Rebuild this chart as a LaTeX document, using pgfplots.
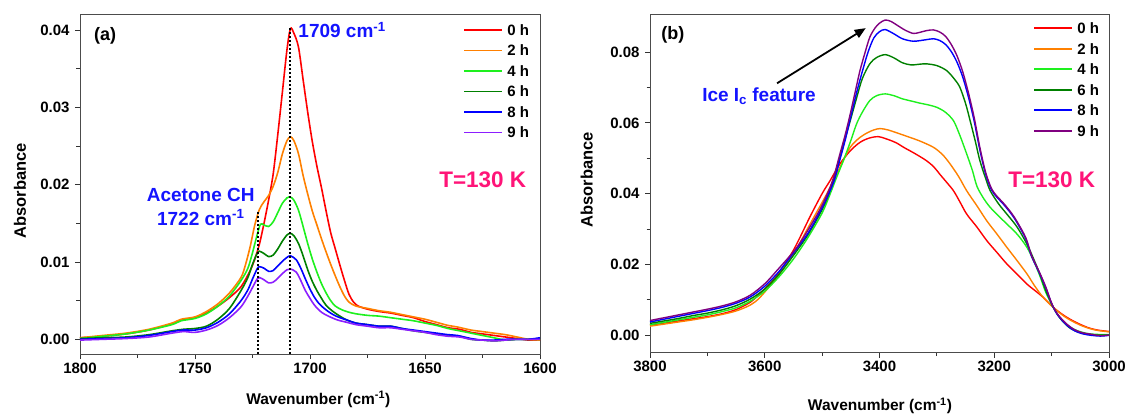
\documentclass[border=0pt]{standalone}
\usepackage{fontspec}
\setmainfont{Liberation Sans}
\usepackage{pgfplots}
\pgfplotsset{compat=1.18}
\usetikzlibrary{arrows.meta}
\definecolor{cA}{RGB}{255,0,0}
\definecolor{cB}{RGB}{255,128,0}
\definecolor{cC}{RGB}{30,240,30}
\definecolor{cD}{RGB}{0,128,0}
\definecolor{cE}{RGB}{0,0,255}
\definecolor{cFa}{RGB}{140,30,255}
\definecolor{cFb}{RGB}{128,0,128}
\definecolor{annblue}{RGB}{20,20,255}
\definecolor{pinkT}{RGB}{255,20,120}
\newcommand{\legrow}[6]{% color, x1, x2, xt, y, label
  \draw[#1, line width=1.9pt] (axis description cs:#2,#5) -- (axis description cs:#3,#5);
  \node[anchor=west, inner sep=0pt, text height=10.7pt, text depth=0pt, font=\fontsize{15}{15}\selectfont\bfseries] at (axis description cs:#4,#5) {#6};}
\pgfplotsset{
  myaxis/.style={
    scale only axis, clip=false,
    axis line style={draw=black!70, line width=0.8pt},
    tick style={black!80, line width=0.8pt},
    tick align=outside,
    major tick length=5pt, minor tick length=3.5pt,
    xtick pos=bottom, ytick pos=left,
    x dir=reverse,
    minor x tick num=1, minor y tick num=1,
    scaled y ticks=false, scaled x ticks=false,
    /pgf/number format/assume math mode=true,
    ticklabel style={font=\fontsize{15}{15}\selectfont\bfseries},
    yticklabel style={xshift=-2pt, /pgf/number format/fixed, /pgf/number format/fixed zerofill, /pgf/number format/precision=2},
    xticklabel style={/pgf/number format/set thousands separator={}},
    xlabel style={font=\fontsize{15.5}{15.5}\selectfont\bfseries, anchor=base, inner sep=0pt},
    ylabel style={font=\fontsize{16.5}{16.5}\selectfont\bfseries, anchor=center, inner sep=0pt},
  }
}
\begin{document}
\begin{tikzpicture}
\path (0,0) rectangle (1132pt,418pt);
% ---------------- panel (a)
\begin{axis}[myaxis,
  at={(80pt,64pt)}, anchor=south west,
  width=460pt, height=339.3pt,
  xmin=1600, xmax=1800, ymin=-0.0019, ymax=0.042,
  xtick={1600,1650,1700,1750,1800},
  ytick={0,0.01,0.02,0.03,0.04},
  xlabel={Wavenumber (cm\textsuperscript{-1})},
  ylabel={Absorbance},
  xlabel style={at={(axis description cs:0.518,-0.1474)}},
  ylabel style={at={(axis description cs:-0.1304,0.481)}},
  every axis plot/.append style={line width=1.6pt, smooth},
]
\addplot[cA] coordinates {(1800,0.0002)(1790,0.0004)(1780,0.0007)(1770,0.0012)(1760,0.0020)(1756,0.0025)(1750,0.0028)(1745,0.0034)(1740,0.0043)(1735,0.0054)(1730,0.0068)(1726,0.0089)(1724,0.0104)(1722,0.0123)(1720,0.0150)(1718,0.0180)(1716,0.0214)(1714,0.0265)(1712,0.0320)(1710,0.0375)(1708.5,0.0402)(1707,0.0396)(1705,0.0378)(1703,0.0336)(1701,0.0294)(1699,0.0256)(1697,0.0224)(1695,0.0196)(1693,0.0166)(1691,0.0138)(1689,0.0117)(1687,0.0096)(1685,0.0076)(1683,0.0058)(1681,0.0048)(1679,0.0043)(1675,0.0039)(1670,0.0036)(1665,0.0034)(1660,0.0031)(1655,0.0028)(1650,0.0023)(1645,0.0019)(1640,0.0015)(1635,0.0013)(1630,0.0009)(1625,0.0007)(1620,0.0005)(1615,0.0003)(1610,0.0001)(1605,-0.0001)(1600,-0.0001)};
\addplot[cB] coordinates {(1800,0.0002)(1790,0.0005)(1780,0.0008)(1770,0.0013)(1760,0.0021)(1756,0.0026)(1750,0.0029)(1745,0.0036)(1740,0.0046)(1735,0.0060)(1730,0.0080)(1728,0.0097)(1726,0.0120)(1724,0.0148)(1722,0.0168)(1720,0.0178)(1718,0.0186)(1716,0.0198)(1714,0.0216)(1712,0.0240)(1710,0.0257)(1708.5,0.0262)(1707,0.0257)(1705,0.0240)(1703,0.0212)(1701,0.0188)(1699,0.0166)(1697,0.0148)(1695,0.0130)(1693,0.0113)(1691,0.0097)(1689,0.0082)(1687,0.0068)(1685,0.0056)(1683,0.0048)(1680,0.0043)(1675,0.0040)(1670,0.0037)(1665,0.0035)(1660,0.0032)(1655,0.0029)(1650,0.0026)(1645,0.0022)(1640,0.0018)(1636,0.0016)(1630,0.0012)(1625,0.0010)(1620,0.0008)(1615,0.0006)(1610,0.0003)(1605,0.0000)(1600,-0.0001)};
\addplot[cC] coordinates {(1800,0.0001)(1790,0.0004)(1780,0.0007)(1770,0.0012)(1760,0.0019)(1756,0.0024)(1750,0.0027)(1745,0.0033)(1740,0.0043)(1735,0.0056)(1730,0.0076)(1727,0.0092)(1725,0.0112)(1723,0.0135)(1721.5,0.0149)(1720,0.0148)(1718,0.0146)(1716,0.0152)(1714,0.0164)(1712,0.0176)(1710,0.0183)(1708.5,0.0184)(1707,0.0180)(1705,0.0167)(1703,0.0146)(1701,0.0124)(1699,0.0104)(1697,0.0087)(1695,0.0072)(1693,0.0060)(1691,0.0050)(1689,0.0043)(1686,0.0038)(1683,0.0035)(1680,0.0033)(1675,0.0031)(1670,0.0030)(1665,0.0028)(1660,0.0026)(1655,0.0024)(1650,0.0021)(1645,0.0018)(1640,0.0014)(1635,0.0011)(1630,0.0008)(1625,0.0005)(1620,0.0002)(1615,-0.0001)(1610,0.0000)(1605,0.0000)(1600,0.0000)};
\addplot[cD] coordinates {(1800,0.0001)(1790,0.0002)(1780,0.0003)(1770,0.0006)(1760,0.0011)(1755,0.0013)(1750,0.0014)(1745,0.0017)(1740,0.0026)(1735,0.0040)(1730,0.0063)(1727,0.0080)(1725,0.0097)(1723,0.0111)(1722,0.0114)(1720,0.0111)(1718,0.0107)(1716,0.0109)(1714,0.0117)(1712,0.0127)(1710,0.0135)(1708.5,0.0137)(1707,0.0134)(1705,0.0124)(1703,0.0108)(1701,0.0090)(1699,0.0075)(1697,0.0063)(1695,0.0053)(1693,0.0044)(1690,0.0036)(1687,0.0030)(1684,0.0025)(1680,0.0021)(1675,0.0019)(1670,0.0017)(1665,0.0017)(1660,0.0014)(1655,0.0011)(1650,0.0009)(1645,0.0007)(1640,0.0005)(1635,0.0004)(1630,0.0000)(1625,-0.0001)(1620,-0.0002)(1615,-0.0001)(1610,0.0000)(1605,0.0000)(1600,0.0001)};
\addplot[cE] coordinates {(1800,0.0000)(1790,0.0001)(1780,0.0002)(1770,0.0005)(1760,0.0010)(1755,0.0012)(1750,0.0012)(1745,0.0015)(1740,0.0022)(1735,0.0033)(1730,0.0050)(1727,0.0064)(1725,0.0078)(1723,0.0091)(1722,0.0094)(1720,0.0092)(1718,0.0088)(1716,0.0089)(1714,0.0095)(1712,0.0101)(1710,0.0106)(1708.5,0.0108)(1706,0.0103)(1704,0.0092)(1702,0.0078)(1700,0.0065)(1698,0.0054)(1696,0.0046)(1693,0.0038)(1690,0.0032)(1687,0.0028)(1684,0.0025)(1680,0.0021)(1675,0.0019)(1670,0.0017)(1665,0.0017)(1660,0.0014)(1655,0.0012)(1650,0.0010)(1645,0.0008)(1640,0.0006)(1636,0.0005)(1630,0.0001)(1625,-0.0001)(1620,-0.0001)(1615,0.0000)(1610,0.0000)(1605,0.0000)(1600,0.0002)};
\addplot[cFa] coordinates {(1800,-0.0001)(1790,0.0000)(1780,0.0001)(1770,0.0003)(1760,0.0008)(1755,0.0010)(1750,0.0009)(1745,0.0012)(1740,0.0018)(1735,0.0028)(1730,0.0042)(1727,0.0056)(1725,0.0067)(1723,0.0078)(1722,0.0080)(1720,0.0077)(1718,0.0073)(1716,0.0074)(1714,0.0079)(1712,0.0085)(1710,0.0090)(1708.5,0.0091)(1706,0.0087)(1704,0.0076)(1702,0.0063)(1700,0.0053)(1698,0.0044)(1695,0.0035)(1692,0.0030)(1688,0.0025)(1684,0.0022)(1680,0.0019)(1675,0.0017)(1670,0.0015)(1665,0.0015)(1660,0.0013)(1655,0.0011)(1650,0.0009)(1645,0.0006)(1640,0.0004)(1635,0.0003)(1630,0.0000)(1625,-0.0001)(1620,-0.0002)(1615,-0.0001)(1610,0.0000)(1605,0.0000)(1600,0.0000)};
\addplot[black, line width=2pt, dash pattern=on 2pt off 2pt, sharp plot] coordinates {(1722.4,-0.0019)(1722.4,0.0166)};
\addplot[black, line width=2pt, dash pattern=on 2pt off 2pt, sharp plot] coordinates {(1708.5,-0.0019)(1708.5,0.0403)};
\node[anchor=base west, inner sep=0pt, font=\fontsize{18}{18}\selectfont\bfseries] at (axis cs:1793.9,0.0387) {(a)};
\node[anchor=base west, inner sep=0pt, text=annblue, font=\fontsize{19}{19}\selectfont\bfseries] at (axis cs:1705.1,0.0390) {1709 cm\textsuperscript{-1}};
\node[anchor=base, inner sep=0pt, text=annblue, font=\fontsize{19}{19}\selectfont\bfseries] at (axis cs:1747.5,0.01788) {Acetone CH};
\node[anchor=base, inner sep=0pt, text=annblue, font=\fontsize{19}{19}\selectfont\bfseries] at (axis cs:1747.5,0.01478) {1722 cm\textsuperscript{-1}};
\node[anchor=base east, inner sep=0pt, text=pinkT, font=\fontsize{22.5}{22.5}\selectfont\bfseries] at (axis cs:1605.9,0.0196) {T=130 K};
\legrow{cA}{0.8354}{0.9167}{0.9289}{0.9549}{0 h}
\legrow{cB}{0.8354}{0.9167}{0.9289}{0.8945}{2 h}
\legrow{cC}{0.8354}{0.9167}{0.9289}{0.8341}{4 h}
\legrow{cD}{0.8354}{0.9167}{0.9289}{0.7737}{6 h}
\legrow{cE}{0.8354}{0.9167}{0.9289}{0.7132}{8 h}
\legrow{cFa}{0.8354}{0.9167}{0.9289}{0.6528}{9 h}
\end{axis}
% ---------------- panel (b)
\begin{axis}[myaxis,
  at={(650pt,65.3pt)}, anchor=south west,
  width=459pt, height=338.7pt,
  xmin=3000, xmax=3800, ymin=-0.005, ymax=0.0908,
  xtick={3000,3200,3400,3600,3800},
  ytick={0,0.02,0.04,0.06,0.08},
  xlabel={Wavenumber (cm\textsuperscript{-1})},
  ylabel={Absorbance},
  xlabel style={at={(axis description cs:0.501,-0.1721)}},
  ylabel style={at={(axis description cs:-0.138,0.51)}},
  every axis plot/.append style={line width=1.4pt, smooth},
]
\addplot[cA] coordinates {(3800,0.0028)(3775,0.0034)(3750,0.0040)(3725,0.0046)(3700,0.0052)(3675,0.0060)(3650,0.0072)(3625,0.0093)(3608,0.0118)(3579,0.0168)(3550,0.0240)(3521,0.0335)(3500,0.0400)(3486,0.0437)(3469,0.0484)(3451,0.0521)(3434,0.0545)(3418,0.0557)(3402,0.0561)(3385,0.0553)(3370,0.0543)(3358,0.0531)(3338,0.0513)(3318,0.0493)(3305,0.0475)(3295,0.0455)(3283,0.0432)(3271,0.0408)(3260,0.0377)(3248,0.0342)(3230,0.0305)(3213,0.0267)(3195,0.0233)(3178,0.0201)(3160,0.0172)(3143,0.0144)(3130,0.0127)(3115,0.0107)(3097,0.0078)(3080,0.0057)(3065,0.0042)(3050,0.0030)(3035,0.0020)(3020,0.0014)(3000,0.0010)};
\addplot[cB] coordinates {(3800,0.0025)(3775,0.0031)(3750,0.0037)(3725,0.0043)(3700,0.0050)(3675,0.0058)(3650,0.0068)(3625,0.0085)(3608,0.0107)(3579,0.0163)(3550,0.0229)(3521,0.0314)(3492,0.0399)(3469,0.0474)(3451,0.0531)(3434,0.0559)(3420,0.0573)(3410,0.0580)(3399,0.0584)(3385,0.0580)(3370,0.0572)(3347,0.0559)(3330,0.0549)(3306,0.0531)(3290,0.0510)(3277,0.0484)(3262,0.0448)(3248,0.0408)(3230,0.0365)(3213,0.0323)(3195,0.0285)(3178,0.0248)(3160,0.0210)(3143,0.0173)(3130,0.0140)(3115,0.0107)(3097,0.0078)(3080,0.0055)(3065,0.0040)(3050,0.0028)(3035,0.0019)(3020,0.0013)(3000,0.0009)};
\addplot[cC] coordinates {(3800,0.0029)(3775,0.0036)(3750,0.0043)(3725,0.0050)(3700,0.0057)(3675,0.0066)(3650,0.0077)(3625,0.0096)(3600,0.0124)(3575,0.0165)(3550,0.0215)(3525,0.0275)(3500,0.0345)(3486,0.0399)(3475,0.0445)(3463,0.0493)(3450,0.0550)(3440,0.0597)(3430,0.0630)(3417,0.0663)(3405,0.0677)(3390,0.0682)(3375,0.0677)(3360,0.0668)(3345,0.0662)(3330,0.0656)(3315,0.0651)(3300,0.0644)(3285,0.0630)(3271,0.0606)(3260,0.0565)(3248,0.0512)(3238,0.0465)(3230,0.0420)(3218,0.0385)(3207,0.0361)(3192,0.0336)(3178,0.0314)(3160,0.0285)(3143,0.0248)(3130,0.0205)(3120,0.0165)(3110,0.0120)(3097,0.0078)(3085,0.0048)(3070,0.0025)(3055,0.0012)(3040,0.0005)(3025,0.0002)(3000,0.0001)};
\addplot[cD] coordinates {(3800,0.0033)(3775,0.0040)(3750,0.0047)(3725,0.0055)(3700,0.0062)(3675,0.0071)(3650,0.0083)(3625,0.0102)(3600,0.0130)(3575,0.0172)(3550,0.0225)(3525,0.0283)(3500,0.0355)(3486,0.0410)(3469,0.0503)(3451,0.0606)(3440,0.0670)(3430,0.0725)(3417,0.0767)(3405,0.0785)(3390,0.0793)(3375,0.0784)(3360,0.0770)(3345,0.0764)(3330,0.0766)(3318,0.0767)(3300,0.0762)(3283,0.0748)(3270,0.0725)(3260,0.0701)(3250,0.0655)(3242,0.0606)(3233,0.0548)(3225,0.0493)(3215,0.0443)(3207,0.0408)(3192,0.0370)(3178,0.0342)(3160,0.0305)(3143,0.0257)(3130,0.0210)(3120,0.0170)(3110,0.0125)(3097,0.0078)(3085,0.0047)(3070,0.0022)(3055,0.0009)(3040,0.0003)(3025,0.0000)(3000,0.0000)};
\addplot[cE] coordinates {(3800,0.0037)(3775,0.0045)(3750,0.0053)(3725,0.0061)(3700,0.0069)(3675,0.0078)(3650,0.0090)(3625,0.0108)(3600,0.0138)(3575,0.0180)(3550,0.0232)(3525,0.0287)(3500,0.0360)(3480,0.0432)(3470,0.0490)(3460,0.0550)(3450,0.0618)(3440,0.0685)(3430,0.0745)(3420,0.0800)(3410,0.0840)(3400,0.0858)(3390,0.0864)(3375,0.0852)(3360,0.0838)(3341,0.0831)(3320,0.0835)(3306,0.0838)(3295,0.0833)(3285,0.0822)(3275,0.0802)(3265,0.0772)(3255,0.0730)(3245,0.0673)(3235,0.0605)(3225,0.0523)(3215,0.0455)(3205,0.0411)(3195,0.0389)(3185,0.0372)(3170,0.0342)(3160,0.0317)(3145,0.0272)(3135,0.0223)(3120,0.0171)(3110,0.0133)(3100,0.0089)(3090,0.0058)(3075,0.0030)(3060,0.0012)(3045,0.0003)(3030,-0.0001)(3015,-0.0003)(3000,-0.0001)};
\addplot[cFb] coordinates {(3800,0.0041)(3775,0.0049)(3750,0.0057)(3725,0.0065)(3700,0.0073)(3675,0.0082)(3650,0.0094)(3625,0.0113)(3600,0.0145)(3579,0.0182)(3544,0.0248)(3515,0.0323)(3500,0.0367)(3486,0.0418)(3480,0.0445)(3469,0.0512)(3460,0.0565)(3451,0.0625)(3440,0.0705)(3434,0.0748)(3425,0.0800)(3417,0.0842)(3408,0.0868)(3400,0.0882)(3390,0.0891)(3380,0.0887)(3370,0.0877)(3355,0.0862)(3341,0.0853)(3330,0.0856)(3318,0.0861)(3306,0.0863)(3295,0.0857)(3285,0.0845)(3275,0.0822)(3265,0.0790)(3255,0.0745)(3245,0.0685)(3235,0.0615)(3225,0.0530)(3215,0.0460)(3205,0.0415)(3195,0.0392)(3185,0.0375)(3170,0.0345)(3160,0.0320)(3145,0.0275)(3135,0.0225)(3120,0.0173)(3110,0.0135)(3100,0.0090)(3090,0.0060)(3075,0.0033)(3060,0.0015)(3045,0.0006)(3030,0.0002)(3015,-0.0002)(3000,0.0000)};
\draw[black, line width=1.8pt, -{Triangle[length=11pt,width=9pt]}] (axis cs:3578.6,0.0712) -- (axis cs:3424,0.0868);
\node[anchor=base west, inner sep=0pt, font=\fontsize{18}{18}\selectfont\bfseries] at (axis cs:3780.6,0.0835) {(b)};
\node[anchor=base, inner sep=0pt, text=annblue, font=\fontsize{19}{19}\selectfont\bfseries] at (axis cs:3610,0.0660) {Ice I\textsubscript{c} feature};
\node[anchor=base east, inner sep=0pt, text=pinkT, font=\fontsize{22.5}{22.5}\selectfont\bfseries] at (axis cs:3023.7,0.0418) {T=130 K};
\legrow{cA}{0.8373}{0.9187}{0.9309}{0.9578}{0 h}
\legrow{cB}{0.8373}{0.9187}{0.9309}{0.8973}{2 h}
\legrow{cC}{0.8373}{0.9187}{0.9309}{0.8367}{4 h}
\legrow{cD}{0.8373}{0.9187}{0.9309}{0.7762}{6 h}
\legrow{cE}{0.8373}{0.9187}{0.9309}{0.7157}{8 h}
\legrow{cFb}{0.8373}{0.9187}{0.9309}{0.6551}{9 h}
\end{axis}
\end{tikzpicture}
\end{document}
